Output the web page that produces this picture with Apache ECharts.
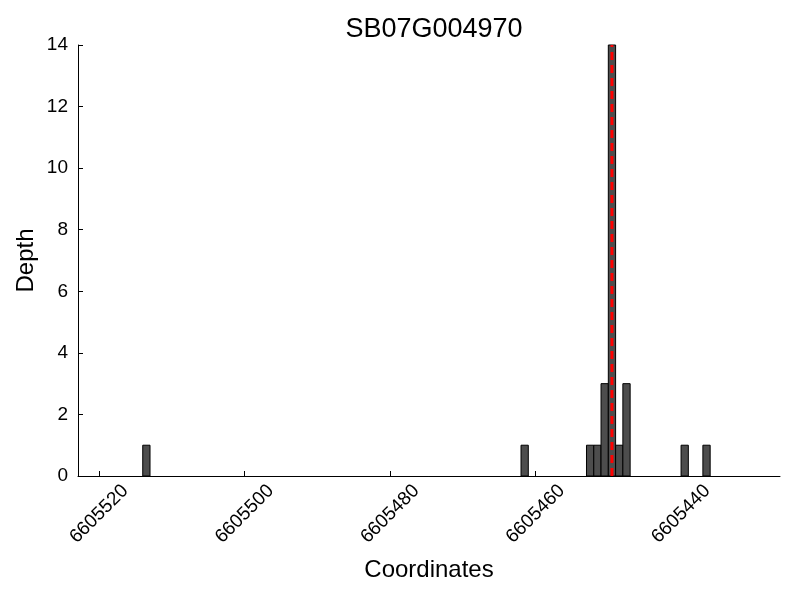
<!DOCTYPE html>
<html>
<head>
<meta charset="utf-8">
<script src="https://cdn.jsdelivr.net/npm/echarts@6/dist/echarts.min.js"></script>
<style>
  html, body { margin: 0; padding: 0; background: #fff; }
  #chart { width: 800px; height: 600px; }
</style>
</head>
<body>
<div id="chart"></div>
<script>
// bin lower edges (1 bp wide) and depth per bin
const binStarts = [6605513, 6605461, 6605452, 6605451, 6605450, 6605449, 6605448, 6605447, 6605439, 6605436];
const depths = [1, 1, 1, 1, 3, 14, 1, 3, 1, 1];
const xTicks = [6605520, 6605500, 6605480, 6605460, 6605440];
const markerPos = 6605449.5;

const font = 'Liberation Sans, Arial, sans-serif';
const chart = echarts.init(document.getElementById('chart'));

const data = binStarts.map((b, i) => [b, b + 1, depths[i]]);

const option = {
  backgroundColor: '#fff',
  animation: false,
  title: {
    text: 'SB07G004970',
    left: 429,
    textAlign: 'center',
    top: 11,
    textStyle: { fontFamily: font, fontSize: 27, fontWeight: 'normal', color: '#000' }
  },
  grid: { left: 78, right: 20, top: 45, bottom: 124 },
  xAxis: {
    type: 'value',
    inverse: true,
    min: 6605426.4,
    max: 6605522.9,
    name: 'Coordinates',
    nameLocation: 'middle',
    nameGap: 82,
    nameMoveOverlap: false,
    nameTextStyle: { fontFamily: font, fontSize: 24, color: '#000' },
    splitLine: { show: false },
    axisLine: { lineStyle: { color: '#000', width: 1 } },
    axisTick: { inside: true, length: 5, customValues: xTicks, lineStyle: { color: '#000' } },
    axisLabel: {
      customValues: xTicks,
      formatter: v => String(v),
      rotate: 45,
      align: 'center',
      verticalAlign: 'middle',
      margin: 38,
      fontFamily: font,
      fontSize: 19,
      color: '#000'
    }
  },
  yAxis: {
    type: 'value',
    min: 0,
    max: 14,
    interval: 2,
    name: 'Depth',
    nameLocation: 'middle',
    nameGap: 40,
    nameMoveOverlap: false,
    nameTextStyle: { fontFamily: font, fontSize: 24, color: '#000' },
    splitLine: { show: false },
    axisLine: { show: true, lineStyle: { color: '#000', width: 1 } },
    axisTick: { show: true, inside: true, length: 5, lineStyle: { color: '#000' } },
    axisLabel: { fontFamily: font, fontSize: 19, color: '#000', margin: 10 }
  },
  series: [{
    type: 'custom',
    data: data,
    encode: { x: [0, 1], y: 2 },
    z: 2,
    renderItem: function (params, api) {
      const p0 = api.coord([api.value(0), 0]);
      const p1 = api.coord([api.value(1), api.value(2)]);
      return {
        type: 'rect',
        shape: {
          x: Math.min(p0[0], p1[0]),
          y: p1[1],
          width: Math.abs(p1[0] - p0[0]),
          height: p0[1] - p1[1]
        },
        style: { fill: '#4d4d4d', stroke: '#000', lineWidth: 1 }
      };
    }
  }, {
    // marker line drawn over the bars
    type: 'line',
    z: 5,
    symbol: 'none',
    silent: true,
    data: [[markerPos, 0], [markerPos, 14]],
    lineStyle: { color: '#ff0000', type: [8, 5], width: 3 }
  }]
};
chart.setOption(option);
</script>
</body>
</html>
